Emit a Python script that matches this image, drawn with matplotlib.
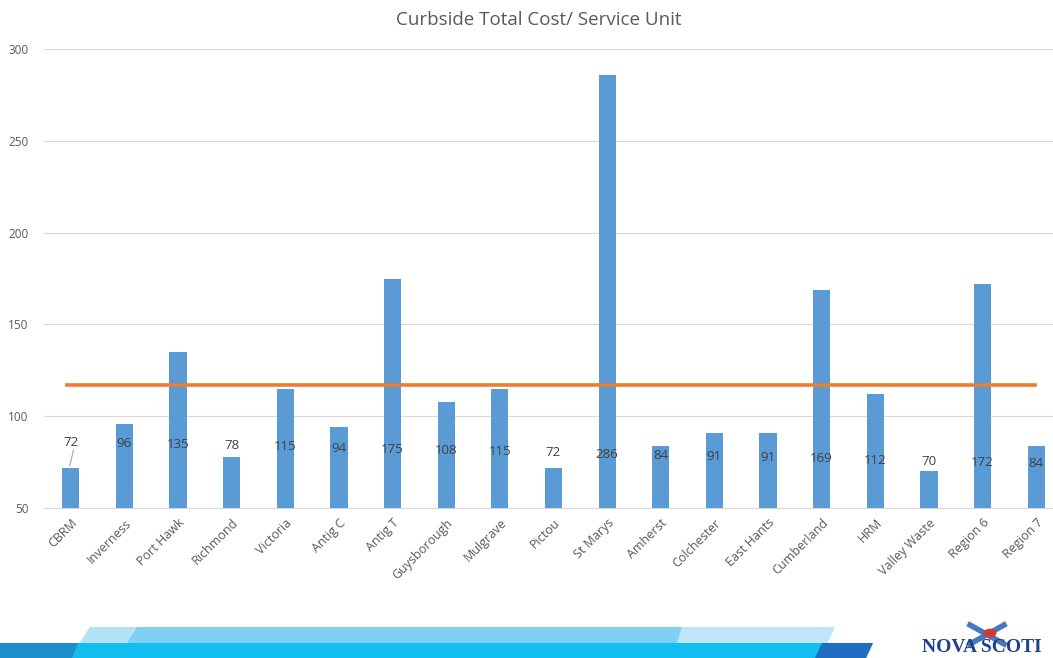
import numpy as np
import matplotlib
matplotlib.use('Agg')
import matplotlib.pyplot as plt
from matplotlib.patches import Polygon

plt.rcParams['font.family'] = ['Open Sans', 'DejaVu Sans']

# datos
regiones = ['CBRM', 'Inverness', 'Port Hawk', 'Richmond', 'Victoria', 'Antig C', 'Antig T',
            'Guysborough', 'Mulgrave', 'Pictou', 'St Marys', 'Amherst', 'Colchester',
            'East Hants', 'Cumberland', 'HRM', 'Valley Waste', 'Region 6', 'Region 7']
costo = [72, 96, 135, 78, 115, 94, 175, 108, 115, 72, 286, 84, 91, 91, 169, 112, 70, 172, 84]
promedio = 116.8
yticks = [50, 100, 150, 200, 250, 300]

W, H = 1053, 658
fig = plt.figure(figsize=(W/100, H/100), dpi=100)
ax = fig.add_axes([44/W, 150/H, 1019/W, 459/H])

x = np.arange(len(regiones))
ax.bar(x, np.array(costo) - 50, bottom=50, width=0.32, color='#5B9BD5', zorder=3)
ax.plot([-0.08, len(regiones) - 1.02], [promedio, promedio], color='#ED7D31', lw=2.6, zorder=4)

# etiquetas de datos (Excel las dejó a media altura)
for i, v in enumerate(costo):
    ypix = 442 + 1.2*i
    yl = 50 + (508 - ypix)/1.836
    ax.text(i, yl, str(v), ha='center', va='center', fontsize=9.5, color='#404040', zorder=5)
# línea guía de CBRM
ax.plot([0.05, -0.02], [81.5, 73], color='#a6a6a6', lw=0.8, zorder=5)

ax.set_xlim(-0.5, len(regiones) - 0.5)
ax.set_ylim(50, 300)
ax.set_yticks(yticks)
ax.set_xticks(x)
ax.set_xticklabels(regiones, rotation=45, ha='right', rotation_mode='anchor',
                   fontsize=9, color='#595959')
ax.tick_params(axis='y', labelsize=8.5, labelcolor='#595959', length=0, pad=11)
ax.tick_params(axis='x', length=0, pad=6)
ax.grid(axis='y', color='#d9d9d9', lw=0.8, zorder=0)
for s in ['top', 'right', 'left']:
    ax.spines[s].set_visible(False)
ax.spines['bottom'].set_color('#d9d9d9')
ax.spines['bottom'].set_zorder(2)

fig.text(539/W, 1 - 20/H, 'Curbside Total Cost/ Service Unit', ha='center', va='center',
         fontsize=13.5, color='#595959')

# franja decorativa inferior
def poly(pts, c):
    fig.patches.append(Polygon([(px/W, 1 - py/H) for px, py in pts], closed=True,
                               transform=fig.transFigure, color=c, lw=0, zorder=1))

poly([(90, 627), (835, 627), (827, 643), (80, 643)], '#7fd0f2')
poly([(90, 627), (137, 627), (127, 643), (80, 643)], '#b3e2f7')
poly([(682, 627), (835, 627), (827, 643), (677, 643)], '#bfe6f8')
poly([(0, 643), (873, 643), (866, 658), (0, 658)], '#12bdf0')
poly([(0, 643), (78, 643), (72, 658), (0, 658)], '#1b8fcb')
poly([(822, 643), (873, 643), (866, 658), (815, 658)], '#1f6ec2')

# logo (recortado en la imagen original)
fig.text(922/W, 1 - 647/H, 'NOVA SCOTI', ha='left', va='center', fontsize=14,
         fontweight='bold', family='Liberation Serif', color='#1f3f8f')
fig.lines.append(plt.Line2D([970/W, 1004/W], [1 - 625/H, 1 - 644/H], transform=fig.transFigure,
                            color='#4a78c0', lw=4))
fig.lines.append(plt.Line2D([970/W, 1004/W], [1 - 644/H, 1 - 625/H], transform=fig.transFigure,
                            color='#4a78c0', lw=4))
fig.patches.append(plt.Circle((990/W, 1 - 633/H), 0.0055, transform=fig.transFigure,
                              color='#d23a2e', zorder=3))

fig.savefig('out.png', dpi=100)
